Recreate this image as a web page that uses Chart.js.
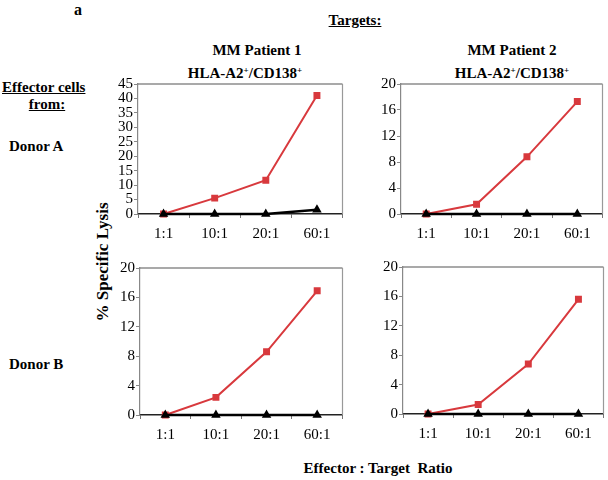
<!DOCTYPE html>
<html>
<head>
<meta charset="utf-8">
<script src="https://cdn.jsdelivr.net/npm/chart.js@4"></script>
<style>
  body { margin: 0; width: 608px; height: 480px; background: #fff; position: relative; overflow: hidden;
         font-family: "Liberation Serif", "Times New Roman", serif; color: #000; }
  .t { position: absolute; white-space: nowrap; font-weight: bold; font-size: 15px; line-height: 1; }
  .c { transform: translateX(-50%); }
  .u { text-decoration: underline; }
  canvas { position: absolute; }
  sup { font-size: 9px; vertical-align: 5px; line-height: 0; }
</style>
</head>
<body>
<div class="t" style="left:74px;top:2px;font-size:16px;">a</div>
<div class="t c u" style="left:355px;top:13px;">Targets:</div>
<div class="t c" style="left:257px;top:43px;">MM Patient 1</div>
<div class="t c" style="left:512px;top:43px;">MM Patient 2</div>
<div class="t c" style="left:245px;top:66px;">HLA-A2<sup>+</sup>/CD138<sup>+</sup></div>
<div class="t c" style="left:512px;top:66px;">HLA-A2<sup>+</sup>/CD138<sup>+</sup></div>
<div class="t u" style="left:2px;top:80px;">Effector cells</div>
<div class="t c u" style="left:47px;top:97px;">from:</div>
<div class="t" style="left:9px;top:139px;">Donor A</div>
<div class="t" style="left:9px;top:357px;">Donor B</div>
<div class="t" style="left:102px;top:262px;font-size:17px;transform:translate(-50%,-50%) rotate(-90deg);">% Specific Lysis</div>
<div class="t c" style="left:378px;top:461px;">Effector : Target&nbsp; Ratio</div>

<canvas id="p1"></canvas>
<canvas id="p2"></canvas>
<canvas id="p3"></canvas>
<canvas id="p4"></canvas>

<script>
const ratios = ['1:1', '10:1', '20:1', '60:1'];

// red = CD138+ myeloma targets, black = control
const p1Red = [0, 5.5, 11.7, 41];
const p1Black = [0, 0, 0, 1.5];
const p2Red = [0, 1.5, 8.8, 17.3];
const p2Black = [0, 0, 0, 0];
const p3Red = [0, 2.4, 8.6, 16.9];
const p3Black = [0, 0, 0, 0];
const p4Red = [0, 1.3, 6.8, 15.6];
const p4Black = [0, 0, 0, 0];

const yMaxTop = 45, yStepTop = 5;
const yMax = 20, yStep = 4;

const serif = '"Liberation Serif", "Times New Roman", serif';

const boxPlugin = {
    id: 'box',
    beforeDatasetsDraw(chart) {
        const a = chart.chartArea;
        const c = chart.ctx;
        c.save();
        c.strokeStyle = '#555';
        c.lineWidth = 1.2;
        c.beginPath();
        c.moveTo(a.left, a.top);
        c.lineTo(a.right, a.top);
        c.stroke();
        c.strokeStyle = '#999';
        c.beginPath();
        c.moveTo(a.right, a.top);
        c.lineTo(a.right, a.bottom);
        c.stroke();
        c.restore();
    }
};

function makePanel(id, area, red, black, max, step) {
    const pad = { left: 40, top: 10, right: 6, bottom: 40 };
    const canvas = document.getElementById(id);
    canvas.width = area.r - area.l + pad.left + pad.right;
    canvas.height = area.b - area.t + pad.top + pad.bottom;
    canvas.style.left = (area.l - pad.left) + 'px';
    canvas.style.top = (area.t - pad.top) + 'px';

    new Chart(canvas.getContext('2d'), {
        type: 'line',
        data: {
            labels: ratios,
            datasets: [
                {
                    data: black,
                    borderColor: '#000',
                    backgroundColor: '#000',
                    borderWidth: 2.5,
                    pointStyle: 'triangle',
                    pointRadius: 3,
                    clip: false
                },
                {
                    data: red,
                    borderColor: '#d8393d',
                    backgroundColor: '#d8393d',
                    borderWidth: 2,
                    pointStyle: 'rect',
                    pointRadius: 3.5,
                    clip: false
                }
            ]
        },
        options: {
            responsive: false,
            animation: false,
            devicePixelRatio: 1,
            layout: { padding: { left: 0, top: pad.top, right: pad.right, bottom: 0 } },
            plugins: { legend: { display: false }, tooltip: { enabled: false } },
            scales: {
                x: {
                    offset: true,
                    grid: { offset: true, drawOnChartArea: false, tickLength: 4, color: '#777' },
                    border: { color: '#222', width: 1.5 },
                    ticks: { color: '#000', padding: 7, autoSkip: false, maxRotation: 0,
                             font: { family: serif, size: 15 } },
                    afterFit(scale) { scale.height = pad.bottom; }
                },
                y: {
                    min: 0,
                    max: max,
                    grid: { drawOnChartArea: false, tickLength: 4, color: '#888' },
                    border: { color: '#888', width: 1.2 },
                    ticks: { stepSize: step, color: '#000', padding: 1, autoSkip: false,
                             font: { family: serif, size: 15, lineHeight: 1 } },
                    afterFit(scale) { scale.width = pad.left; }
                }
            }
        },
        plugins: [boxPlugin]
    });
}

makePanel('p1', { l: 138, r: 343, t: 84, b: 214 }, p1Red, p1Black, yMaxTop, yStepTop);
makePanel('p2', { l: 401, r: 603, t: 84, b: 214 }, p2Red, p2Black, yMax, yStep);
makePanel('p3', { l: 140, r: 343, t: 268, b: 415 }, p3Red, p3Black, yMax, yStep);
makePanel('p4', { l: 403, r: 604, t: 267, b: 414 }, p4Red, p4Black, yMax, yStep);
</script>
</body>
</html>
